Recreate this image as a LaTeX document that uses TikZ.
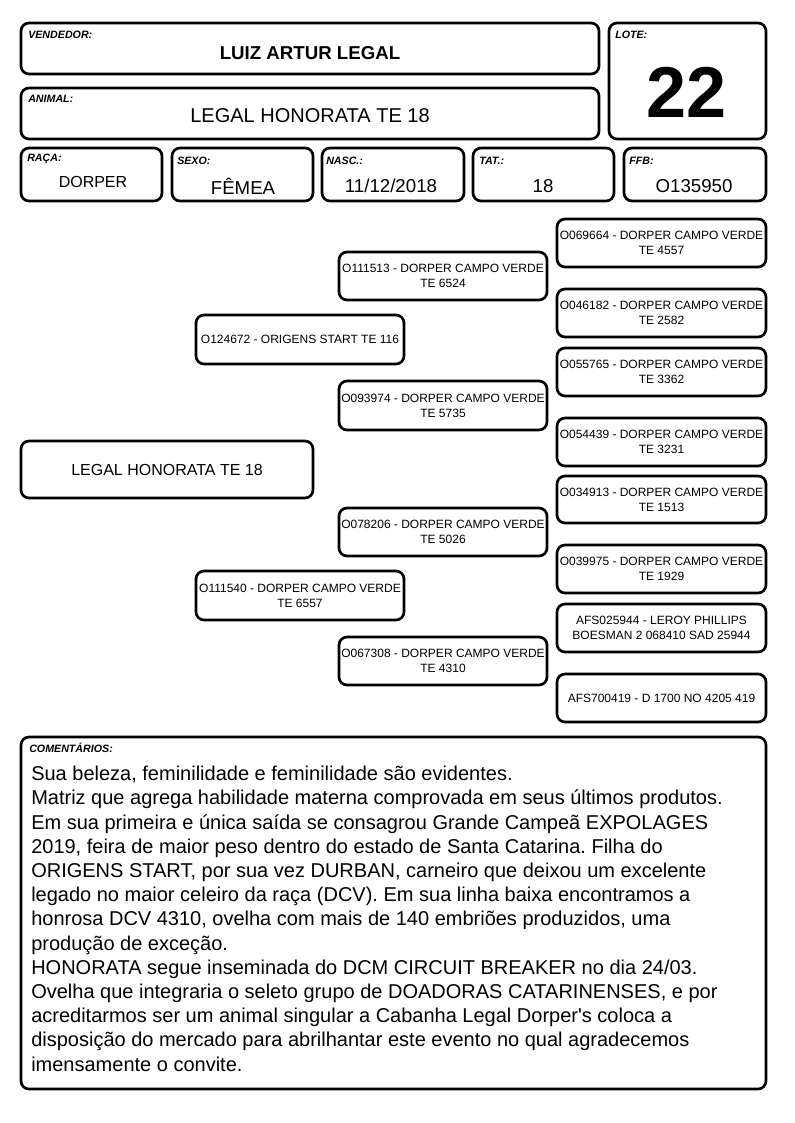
\documentclass[tikz,border=0pt]{standalone}
\usepackage{fontspec}
\setmainfont{Liberation Sans}[Ligatures=TeXOff]
\lineskiplimit=-20pt
\frenchspacing
\begin{document}
\begin{tikzpicture}[x=0.75pt,y=-0.75pt,
  bx/.style={draw=black,line width=2pt,rounded corners=6pt,inner sep=0pt,outer sep=0pt,align=center},
  lbl/.style={anchor=west,inner sep=0pt,font=\fontsize{8pt}{9pt}\selectfont\bfseries\itshape},
  ped/.style={font=\fontsize{9pt}{11.25pt}\selectfont},
  val/.style={font=\fontsize{14pt}{16pt}\selectfont}]
\useasboundingbox (0,0) rectangle (794,1123);
\newcommand\bxx[7][]{\node[bx,#1,minimum width={0.75pt*(#5-#3)},minimum height={0.75pt*(#6-#4)}] (#2) at ({(#3+#5)/2},{(#4+#6)/2}) {#7};}
% header
\bxx{vend}{21}{23}{599}{74}{}
\bxx{anim}{21}{88}{599}{139}{}
\bxx{lote}{609}{23}{766}{139}{}
\bxx{raca}{21}{148}{162}{201}{}
\bxx{sexo}{172}{148}{313}{201}{}
\bxx{nasc}{322}{148}{464}{201}{}
\bxx{tat}{473}{148}{614}{201}{}
\bxx{ffb}{624}{148}{766}{201}{}
\node[lbl] (lvend) at (28,35) {VENDEDOR:};
\node[lbl] (lanim) at (28,99) {ANIMAL:};
\node[lbl] (llote) at (615,35) {LOTE:};
\node[lbl] (lraca) at (27,159) {RAÇA:};
\node[lbl] (lsexo) at (177,161) {SEXO:};
\node[lbl] (lnasc) at (326,161) {NASC.:};
\node[lbl] (ltat) at (479,161) {TAT.:};
\node[lbl] (lffb) at (629,161) {FFB:};
\node[inner sep=0pt,font=\fontsize{14pt}{16pt}\selectfont\bfseries] (tvend) at (310,53) {LUIZ ARTUR LEGAL};
\node[inner sep=0pt,font=\fontsize{15pt}{17pt}\selectfont] (tanim) at (310,116) {LEGAL HONORATA TE 18};
\node[inner sep=0pt,font=\fontsize{54pt}{60pt}\selectfont\bfseries] (tlote) at (687,92) {22};
\node[inner sep=0pt,font=\fontsize{12pt}{14pt}\selectfont] (traca) at (93,182) {DORPER};
\node[inner sep=0pt,val] (tsexo) at (243,186) {FÊMEA};
\node[inner sep=0pt,val] (tnasc) at (391,186) {11/12/2018};
\node[inner sep=0pt,val] (ttat) at (543,186) {18};
\node[inner sep=0pt,val] (tffb) at (694,186) {O135950};
% pedigree
\bxx[font=\fontsize{12pt}{14pt}\selectfont]{g1}{21}{441}{313}{498}{LEGAL HONORATA TE 18}
\bxx[ped]{g2a}{196}{315}{404}{364}{O124672 - ORIGENS START TE 116}
\bxx[ped]{g2b}{196}{571}{404}{620}{O111540 - DORPER CAMPO VERDE\\TE 6557}
\bxx[ped]{g3a}{339}{252}{547}{300}{O111513 - DORPER CAMPO VERDE\\TE 6524}
\bxx[ped]{g3b}{339}{381}{547}{430}{O093974 - DORPER CAMPO VERDE\\TE 5735}
\bxx[ped]{g3c}{339}{508}{547}{556}{O078206 - DORPER CAMPO VERDE\\TE 5026}
\bxx[ped]{g3d}{339}{637}{547}{685}{O067308 - DORPER CAMPO VERDE\\TE 4310}
\bxx[ped]{g4a}{557}{219}{766}{267}{O069664 - DORPER CAMPO VERDE\\TE 4557}
\bxx[ped]{g4b}{557}{289}{766}{337}{O046182 - DORPER CAMPO VERDE\\TE 2582}
\bxx[ped]{g4c}{557}{348}{766}{396}{O055765 - DORPER CAMPO VERDE\\TE 3362}
\bxx[ped]{g4d}{557}{418}{766}{466}{O054439 - DORPER CAMPO VERDE\\TE 3231}
\bxx[ped]{g4e}{557}{476}{766}{523}{O034913 - DORPER CAMPO VERDE\\TE 1513}
\bxx[ped]{g4f}{557}{545}{766}{593}{O039975 - DORPER CAMPO VERDE\\TE 1929}
\bxx[ped]{g4g}{557}{604}{766}{652}{AFS025944 - LEROY PHILLIPS\\BOESMAN 2 068410 SAD 25944}
\bxx[ped]{g4h}{557}{674}{766}{722}{AFS700419 - D 1700 NO 4205 419}
% comments
\bxx{com}{21}{737}{766}{1089}{}
\node[lbl] (lcom) at (29,748) {COMENTÁRIOS:};
\node[anchor=north west,inner sep=0pt,align=left,font=\fontsize{15pt}{18.15pt}\selectfont] (tcom) at (31,766) {%
Sua beleza, feminilidade e feminilidade são evidentes.\\
Matriz que agrega habilidade materna comprovada em seus últimos produtos.\\
Em sua primeira e única saída se consagrou Grande Campeã EXPOLAGES\\
2019, feira de maior peso dentro do estado de Santa Catarina. Filha do\\
ORIGENS START, por sua vez DURBAN, carneiro que deixou um excelente\\
legado no maior celeiro da raça (DCV). Em sua linha baixa encontramos a\\
honrosa DCV 4310, ovelha com mais de 140 embriões produzidos, uma\\
produção de exceção.\\
HONORATA segue inseminada do DCM CIRCUIT BREAKER no dia 24/03.\\
Ovelha que integraria o seleto grupo de DOADORAS CATARINENSES, e por\\
acreditarmos ser um animal singular a Cabanha Legal Dorper's coloca a\\
disposição do mercado para abrilhantar este evento no qual agradecemos\\
imensamente o convite.};
\end{tikzpicture}
\end{document}
